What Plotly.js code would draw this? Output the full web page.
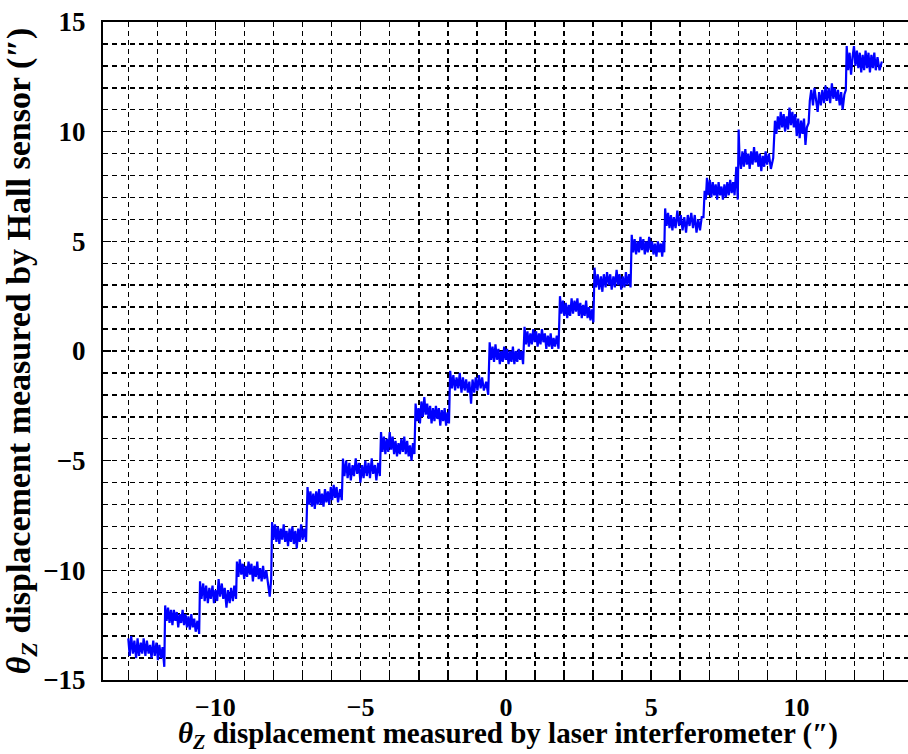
<!DOCTYPE html>
<html>
<head>
<meta charset="utf-8">
<script src="https://cdn.plot.ly/plotly-3.0.1.min.js"></script>
<style>html,body{margin:0;padding:0;background:#fff;}#chart{width:908px;height:754px;}</style>
</head>
<body>
<div id="chart"></div>
<script>
// θz displacement: laser interferometer reading (x) vs Hall sensor reading (y), arcsec.
// One line per step of the staircase.
const laserX = [
  -13.00,-12.95,-12.90,-12.84,-12.79,-12.73,-12.68,-12.63, -12.57,-12.52,-12.47,-12.41,-12.36,-12.30,-12.25,-12.20, -12.14,-12.09,-12.03,-11.98,-11.93,-11.87,-11.82,-11.76,
  -11.73,-11.68,-11.63,-11.58,-11.53,-11.48,-11.43,-11.38, -11.33,-11.28,-11.23,-11.18,-11.13,-11.08,-11.03,-10.98, -10.93,-10.88,-10.83,-10.78,-10.73,-10.68,-10.62,-10.56,
  -10.53,-10.48,-10.42,-10.37,-10.32,-10.26,-10.21,-10.16, -10.10,-10.05,-10.00,-9.94,-9.89,-9.84,-9.78,-9.73, -9.68,-9.62,-9.57,-9.51,-9.46,-9.40,-9.35,-9.29,
  -9.26,-9.21,-9.16,-9.11,-9.06,-9.01,-8.96,-8.91, -8.86,-8.81,-8.76,-8.71,-8.66,-8.61,-8.56,-8.51, -8.46,-8.41,-8.36,-8.31,-8.25,-8.19,-8.13,-8.08,
  -8.05,-8.00,-7.95,-7.90,-7.85,-7.80,-7.75,-7.70, -7.65,-7.60,-7.55,-7.50,-7.45,-7.40,-7.35,-7.30, -7.25,-7.20,-7.15,-7.10,-7.05,-7.00,-6.94,-6.88,
  -6.83,-6.78,-6.73,-6.68,-6.63,-6.58,-6.53,-6.48, -6.43,-6.38,-6.33,-6.28,-6.23,-6.18,-6.13,-6.08, -6.03,-5.98,-5.93,-5.88,-5.83,-5.78,-5.71,-5.65,
  -5.61,-5.56,-5.50,-5.45,-5.39,-5.34,-5.28,-5.23, -5.17,-5.12,-5.06,-5.01,-4.95,-4.90,-4.84,-4.79, -4.73,-4.68,-4.62,-4.57,-4.51,-4.46,-4.40,-4.34,
  -4.30,-4.25,-4.20,-4.15,-4.10,-4.05,-4.00,-3.95, -3.90,-3.85,-3.80,-3.75,-3.70,-3.65,-3.60,-3.55, -3.50,-3.45,-3.40,-3.35,-3.30,-3.25,-3.20,-3.15,
  -3.11,-3.06,-3.01,-2.96,-2.91,-2.86,-2.81,-2.76, -2.71,-2.66,-2.61,-2.56,-2.51,-2.46,-2.41,-2.36, -2.31,-2.26,-2.21,-2.16,-2.11,-2.06,-2.01,-1.96,
  -1.92,-1.86,-1.81,-1.75,-1.70,-1.64,-1.59,-1.53, -1.48,-1.42,-1.37,-1.31,-1.26,-1.20,-1.15,-1.09, -1.04,-0.98,-0.93,-0.87,-0.82,-0.76,-0.68,-0.61,
  -0.56,-0.51,-0.46,-0.41,-0.36,-0.31,-0.26,-0.21, -0.16,-0.11,-0.06,-0.01,0.04,0.09,0.14,0.19, 0.24,0.29,0.34,0.39,0.44,0.49,0.54,0.59,
  0.64,0.69,0.74,0.79,0.84,0.89,0.94,0.99, 1.04,1.09,1.14,1.19,1.24,1.29,1.34,1.39, 1.44,1.49,1.54,1.59,1.64,1.69,1.75,1.81,
  1.86,1.91,1.96,2.01,2.06,2.11,2.16,2.21, 2.26,2.31,2.36,2.41,2.46,2.51,2.56,2.61, 2.66,2.71,2.76,2.81,2.86,2.91,2.96,3.01,
  3.05,3.10,3.16,3.21,3.27,3.32,3.37,3.43, 3.48,3.54,3.59,3.64,3.70,3.75,3.81,3.86, 3.91,3.97,4.02,4.08,4.13,4.18,4.24,4.29,
  4.33,4.38,4.43,4.48,4.53,4.58,4.63,4.68, 4.73,4.78,4.83,4.88,4.93,4.98,5.03,5.08, 5.13,5.18,5.23,5.28,5.33,5.38,5.42,5.45,
  5.48,5.53,5.58,5.63,5.68,5.73,5.78,5.84, 5.90,5.96,6.02,6.08,6.14,6.20,6.26,6.32, 6.38,6.44,6.50,6.56,6.62,6.68,6.74,6.80,
  6.84,6.88,6.92,6.97,7.02,7.07,7.12,7.17, 7.22,7.27,7.32,7.37,7.42,7.47,7.52,7.57, 7.62,7.67,7.72,7.77,7.82,7.87,7.93,7.98,
  8.01,8.04,8.09,8.14,8.19,8.24,8.29,8.34, 8.39,8.44,8.49,8.54,8.59,8.64,8.69,8.74, 8.79,8.84,8.89,8.94,8.99,9.05,9.12,9.20,
  9.26,9.31,9.36,9.41,9.46,9.51,9.56,9.61, 9.66,9.71,9.76,9.81,9.86,9.91,9.96,10.01, 10.06,10.11,10.16,10.21,10.26,10.31,10.36,10.42,
  10.46,10.51,10.57,10.62,10.68,10.73,10.78,10.84, 10.89,10.95,11.00,11.05,11.11,11.16,11.22,11.27, 11.32,11.38,11.43,11.49,11.54,11.59,11.65,11.70,
  11.73,11.78,11.83,11.88,11.93,11.98,12.03,12.08, 12.13,12.18,12.23,12.28,12.33,12.38,12.43,12.48, 12.53,12.58,12.63,12.68,12.73,12.79,12.86,12.94
];
const hallY = [
  -13.1,-13.9,-13.0,-13.8,-13.2,-14.0,-13.1,-13.9, -13.3,-13.8,-13.1,-13.9,-13.2,-13.8,-13.4,-14.0, -13.2,-13.9,-13.3,-14.1,-13.4,-14.0,-13.5,-14.4,
  -11.6,-12.3,-11.7,-12.4,-11.8,-12.5,-11.8,-12.3, -11.9,-12.6,-12.0,-12.4,-11.8,-12.5,-12.0,-12.6, -12.1,-12.7,-12.0,-12.6,-12.2,-12.8,-12.3,-12.9,
  -10.5,-11.3,-10.6,-11.4,-10.7,-11.5,-10.8,-11.3, -10.7,-11.5,-10.9,-11.4,-10.4,-11.2,-10.6,-11.3, -10.8,-11.7,-10.9,-11.5,-10.8,-11.4,-10.7,-11.3,
  -9.6,-10.3,-9.5,-10.2,-9.7,-10.4,-9.8,-10.3, -9.6,-10.2,-9.7,-10.5,-9.8,-10.3,-9.6,-10.4, -9.9,-10.5,-9.8,-10.4,-10.0,-10.6,-11.2,-10.4,
  -7.8,-8.6,-7.9,-8.7,-8.0,-8.8,-8.1,-8.6, -7.9,-8.7,-8.2,-8.9,-8.1,-8.7,-8.0,-8.8, -8.2,-9.0,-8.1,-8.7,-7.9,-8.6,-8.1,-8.7,
  -6.2,-7.0,-6.4,-7.1,-6.5,-7.2,-6.4,-7.0, -6.3,-7.0,-6.5,-7.1,-6.3,-6.9,-6.4,-7.0, -6.2,-6.8,-6.1,-6.7,-6.2,-6.9,-6.3,-6.8,
  -4.9,-5.7,-5.0,-5.8,-5.1,-5.9,-5.2,-5.7, -4.9,-5.6,-5.1,-6.0,-5.2,-5.8,-5.0,-5.7, -5.1,-5.8,-4.9,-5.6,-5.2,-5.9,-5.1,-5.7,
  -3.7,-4.6,-3.9,-4.7,-4.0,-4.6,-3.7,-4.5, -3.9,-4.7,-4.1,-4.8,-4.2,-4.7,-4.0,-4.6, -3.9,-4.7,-4.1,-4.8,-4.3,-5.0,-4.2,-4.7,
  -2.4,-3.2,-2.6,-3.3,-2.3,-3.0,-2.1,-2.9, -2.4,-3.1,-2.5,-3.3,-2.6,-3.2,-2.5,-3.1, -2.6,-3.4,-2.7,-3.2,-2.6,-3.4,-2.8,-3.3,
  -0.9,-1.7,-1.1,-1.8,-1.2,-1.7,-1.0,-1.9, -1.2,-1.8,-1.3,-1.9,-1.4,-2.4,-1.3,-1.9, -1.2,-1.8,-1.1,-1.7,-1.2,-1.8,-1.4,-2.0,
  0.4,-0.4,0.2,-0.5,0.3,-0.4,0.1,-0.6, 0.0,-0.5,0.2,-0.4,0.1,-0.6,0.0,-0.5, 0.2,-0.6,0.0,-0.5,0.1,-0.4,0.0,-0.6,
  1.1,0.3,0.9,0.2,0.8,0.3,1.0,0.4, 0.9,0.2,0.8,0.3,1.0,0.4,0.8,0.1, 0.7,0.2,0.8,0.1,0.6,0.2,0.7,0.1,
  2.5,1.7,2.3,1.6,2.2,1.5,2.1,1.6, 2.4,1.7,2.3,1.8,2.4,1.6,2.2,1.5, 2.1,1.6,2.3,1.5,2.0,1.4,1.9,1.3,
  3.8,2.9,3.5,2.8,3.4,2.7,3.5,2.9, 3.6,3.0,3.5,2.8,3.4,2.9,3.7,3.0, 3.5,2.8,3.4,2.9,3.6,3.0,3.5,2.9,
  5.3,4.5,5.1,4.4,5.0,4.5,5.2,4.6, 5.1,4.4,5.0,4.5,5.2,4.6,5.0,4.4, 4.9,4.3,5.0,4.5,4.9,4.3,5.0,4.5,
  6.5,5.7,6.3,5.6,6.2,5.5,6.1,5.6, 6.4,5.7,6.2,5.5,6.1,5.4,6.2,5.7, 6.3,5.6,6.2,5.4,6.0,5.5,6.1,6.1,
  7.3,6.9,7.9,7.1,7.8,7.0,7.7,7.1, 7.6,6.9,7.7,7.1,7.5,6.9,7.6,7.0, 7.7,7.1,7.8,7.2,7.7,7.1,8.4,6.9,
  10.1,8.9,8.3,9.1,8.4,9.2,8.5,9.0, 8.3,9.1,8.5,9.3,8.6,9.1,8.4,9.0, 8.2,8.9,8.4,9.1,8.5,9.0,8.3,8.8,
  10.5,9.9,10.7,10.1,10.9,10.2,10.8,10.0, 10.7,10.1,11.1,10.3,10.9,10.2,10.8,9.8, 10.6,9.7,10.5,9.9,10.6,9.4,10.2,10.4,
  11.4,11.9,11.2,12.0,11.3,10.9,11.8,11.2, 11.9,11.3,12.1,11.4,12.0,11.3,12.2,11.5, 12.0,11.4,11.9,11.2,11.8,11.0,11.7,11.9,
  13.9,12.8,13.6,12.6,13.4,13.9,13.0,13.7, 12.9,13.6,12.7,13.5,12.8,13.7,12.9,13.6, 12.7,13.5,12.9,13.6,12.8,13.4,12.8,13.2
];

// axis ticks and labels
const xTickVals = [-10, -5, 0, 5, 10];
const xTickText = ['\u221210', '\u22125', '0', '5', '10'];
const yTickVals = [-15, -10, -5, 0, 5, 10, 15];
const yTickText = ['\u221215', '\u221210', '\u22125', '0', '5', '10', '15'];
// major vertical grid lines (none at -10)
const xMajorGrid = [-5, 0, 5, 10];

const xTitle = '<i>\u03b8<sub>Z</sub></i> displacement measured by laser interferometer (<i>\u2033</i>)';
const yTitle = '<i>\u03b8<sub>Z</sub></i> displacement measured by Hall sensor (<i>\u2033</i>)';

const serif = '"Liberation Serif", "Times New Roman", serif';
const xRange = [-13.87, 13.84];
const yRange = [-15, 15];
const dash = '5px,4px';

const trace = {
  x: laserX,
  y: hallY,
  type: 'scatter',
  mode: 'lines',
  line: {color: '#0000ff', width: 2.2},
  hoverinfo: 'x+y'
};

const gridStyle = {gridcolor: '#000', gridwidth: 1.5, griddash: dash};

const layout = {
  width: 908,
  height: 754,
  margin: {l: 103, r: 0, t: 22, b: 74},
  paper_bgcolor: '#ffffff',
  plot_bgcolor: '#ffffff',
  showlegend: false,
  font: {family: serif, color: '#000000'},
  xaxis: {
    range: xRange,
    tickmode: 'array',
    tickvals: xTickVals,
    ticktext: xTickText,
    ticks: 'inside',
    ticklen: 8,
    tickwidth: 1.5,
    tickcolor: '#000',
    ticklabelstandoff: 3,
    showline: true,
    linecolor: '#000',
    linewidth: 2,
    mirror: 'allticks',
    showgrid: false,
    zeroline: false,
    tickfont: {family: serif, size: 26, color: '#000', weight: 'bold'},
    minor: Object.assign({dtick: 1, tick0: 0, ticks: 'inside', ticklen: 5, tickwidth: 1.5, tickcolor: '#000', showgrid: true}, gridStyle)
  },
  xaxis2: Object.assign({
    overlaying: 'x',
    range: xRange,
    tickmode: 'array',
    tickvals: xMajorGrid,
    showticklabels: false,
    ticks: '',
    showline: false,
    zeroline: false,
    showgrid: true
  }, gridStyle),
  yaxis: Object.assign({
    range: yRange,
    tickmode: 'array',
    tickvals: yTickVals,
    ticktext: yTickText,
    ticks: 'inside',
    ticklen: 8,
    tickwidth: 1.5,
    tickcolor: '#000',
    ticklabelstandoff: 10,
    showline: true,
    linecolor: '#000',
    linewidth: 2,
    mirror: false,
    showgrid: true,
    zeroline: false,
    tickfont: {family: serif, size: 27, color: '#000', weight: 'bold'},
    minor: Object.assign({dtick: 1, tick0: 0, ticks: 'inside', ticklen: 5, tickwidth: 1.5, tickcolor: '#000', showgrid: true}, gridStyle),
    title: {
      text: yTitle,
      font: {family: serif, size: 34, color: '#000', weight: 'bold'},
      standoff: 4
    }
  }, gridStyle),
  // x-axis title placed as a paper-anchored label below the tick labels
  annotations: [{
    text: xTitle,
    xref: 'paper', yref: 'paper',
    x: 0.503, y: -0.084,
    xanchor: 'center', yanchor: 'middle',
    showarrow: false,
    font: {family: serif, size: 29, color: '#000', weight: 'bold'}
  }]
};

Plotly.newPlot('chart', [trace], layout, {displayModeBar: false, staticPlot: true});
</script>
</body>
</html>
